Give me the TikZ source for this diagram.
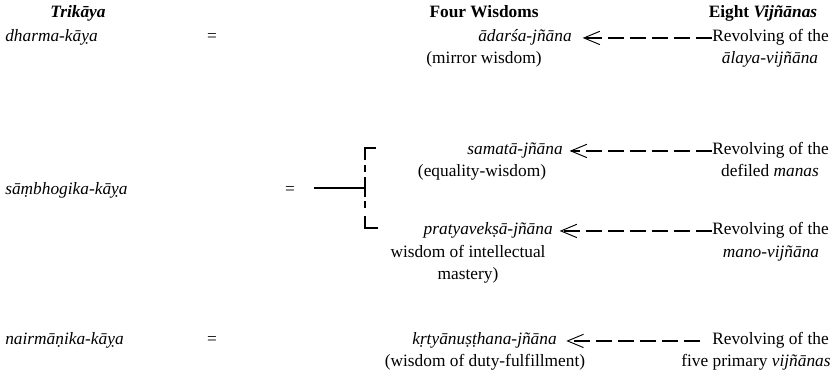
\documentclass[tikz,border=0pt]{standalone}
\usepackage{fontspec}
\setmainfont{Liberation Serif}
\usetikzlibrary{arrows.meta}

\tikzset{
  lbl/.style={inner sep=0pt, font=\fontsize{13}{16}\selectfont},
  head/.style={lbl, font=\fontsize{13}{16}\selectfont\bfseries},
  revarrow/.style={line width=1.4pt, dash pattern=on 12pt off 4.5pt,
    -{Straight Barb[length=12pt,width=10pt,line width=0.7pt]}},
  brace/.style={line width=1.4pt}
}

\begin{document}
\begin{tikzpicture}[x=0.75pt,y=-0.75pt]
    \useasboundingbox (0,0) rectangle (833,387);

    % Headings
    \node[head, anchor=base] (trikaya) at (78,17) {\textit{Trikāya}};
    \node[head, anchor=base] (four) at (484,17) {Four Wisdoms};
    \node[head, anchor=base] (eight) at (763,17) {Eight \textit{Vijñānas}};

    % dharma-kaya
    \node[lbl, anchor=base west] (dharma) at (5,41) {\textit{dharma-kāỵa}};
    \node[lbl, anchor=base] (eq1) at (212,41) {=};
    \node[lbl, anchor=base east] (adarsa) at (572,41) {\textit{ādarśa-jñāna}};
    \node[lbl, anchor=base] (mirror) at (484,63) {(mirror wisdom)};
    \node[lbl, anchor=base west] (rev1) at (712,41) {Revolving of the};
    \node[lbl, anchor=base] (alaya) at (770,63) {\textit{ālaya-vijñāna}};

    % sambhogika-kaya
    \node[lbl, anchor=base west] (sambh) at (5,194) {\textit{sāṃbhogika-kāỵa}};
    \node[lbl, anchor=base] (eq2) at (290,194) {=};
    \node[lbl, anchor=base east] (samata) at (563,154) {\textit{samatā-jñāna}};
    \node[lbl, anchor=base] (equal) at (482,176) {(equality-wisdom)};
    \node[lbl, anchor=base west] (rev2) at (712,154) {Revolving of the};
    \node[lbl, anchor=base] (manas) at (770,176) {defiled \textit{manas}};
    \node[lbl, anchor=base east] (pratya) at (553,234) {\textit{pratyavekṣā-jñāna}};
    \node[lbl, anchor=base] (intel) at (468,257) {wisdom of intellectual};
    \node[lbl, anchor=base] (mastery) at (468,279) {mastery)};
    \node[lbl, anchor=base west] (rev3) at (712,234) {Revolving of the};
    \node[lbl, anchor=base] (mano) at (771,257) {\textit{mano-vijñāna}};

    % nairmanika-kaya
    \node[lbl, anchor=base west] (nairm) at (5,344) {\textit{nairmāṇika-kāỵa}};
    \node[lbl, anchor=base] (eq3) at (212,344) {=};
    \node[lbl, anchor=base east] (krtya) at (557,344) {\textit{kṛtyānuṣṭhana-jñāna}};
    \node[lbl, anchor=base] (duty) at (485,366) {(wisdom of duty-fulfillment)};
    \node[lbl, anchor=base west] (rev4) at (712,344) {Revolving of the};
    \node[lbl, anchor=base] (five) at (756,366) {five primary \textit{vijñānas}};

    % Bracket
    \coordinate (btop) at (365,148);
    \coordinate (bbot) at (365,228);
    \coordinate (bmid) at (365,188);
    \draw[brace] ([xshift=8]btop) -- (btop) -- ([yshift=-9]btop);
    \draw[brace] ([xshift=10]bbot) -- (bbot) -- ([yshift=9]bbot);
    \draw[brace, dash pattern=on 5pt off 4pt] ([yshift=-13]btop) -- ([yshift=13]bbot);
    \draw[brace] ([yshift=-7]bmid) -- ([yshift=7]bmid);
    \draw[brace] ([xshift=14]eq2.east |- bmid) -- (bmid);

    % Arrows
    \draw[revarrow, shorten >=8pt] (rev1.mid west) -- (adarsa.mid east);
    \draw[revarrow, shorten >=5pt] (rev2.mid west) -- (samata.mid east);
    \draw[revarrow, shorten >=5pt] (rev3.mid west) -- (pratya.mid east);
    \draw[revarrow, shorten <=9pt, shorten >=7pt] (rev4.mid west) -- (krtya.mid east);
\end{tikzpicture}
\end{document}
